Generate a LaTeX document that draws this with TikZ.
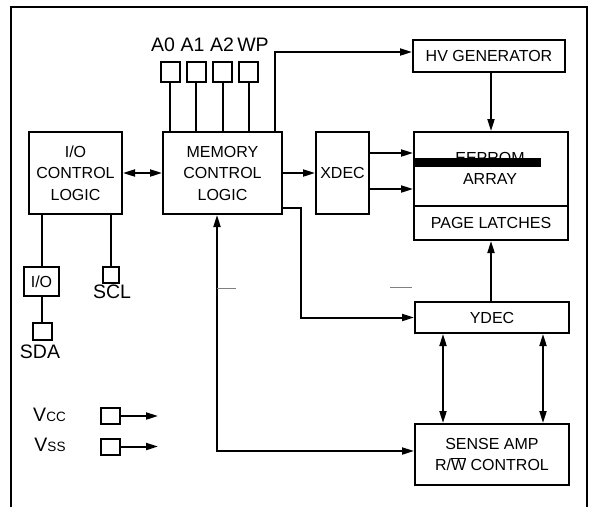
\documentclass[tikz,border=0pt]{standalone}
\usepackage{fontspec}
\setmainfont{Liberation Sans}
\usetikzlibrary{arrows.meta}
\begin{document}
\begin{tikzpicture}[x=1pt,y=-1pt,
  line width=2pt,
  box/.style={draw,line width=2pt,inner sep=0pt,align=center,font=\fontsize{16}{21.5}\selectfont},
  txt/.style={inner sep=0pt,align=center,font=\fontsize{16}{21.5}\selectfont},
  pinbox/.style={draw,line width=2pt,inner sep=0pt},
  lbl/.style={inner sep=0pt,font=\fontsize{19.5}{21}\selectfont},
  arr/.style={-{Triangle[length=12pt,width=7pt]}},
  darr/.style={{Triangle[length=12pt,width=7pt]}-{Triangle[length=12pt,width=7pt]}},
  graymark/.style={draw=gray,line width=1pt}
]
\useasboundingbox (0,0) rectangle (589,507);
% outer frame
\draw (11,507) -- (11,7) -- (587,7) -- (587,507);

% main blocks
\node[box,minimum width=93pt,minimum height=82pt] (ioc) at (75.5,173) {I/O\\CONTROL\\LOGIC};
\node[box,minimum width=119pt,minimum height=82pt] (mem) at (222.5,173) {MEMORY\\CONTROL\\LOGIC};
\node[box,minimum width=53pt,minimum height=82pt] (xdec) at (342.5,173) {XDEC};
\node[box,minimum width=152pt,minimum height=32pt] (hv) at (489,56) {HV GENERATOR};
\node[box,minimum width=154pt,minimum height=74pt] (arr) at (491,169) {};
\node[box,minimum width=154pt,minimum height=34pt] (pl) at (491,223) {PAGE LATCHES};
\node[box,minimum width=154pt,minimum height=31pt] (ydec) at (492,317.5) {YDEC};
\node[box,minimum width=154pt,minimum height=61pt] (sa) at (492,454.5) {SENSE AMP\\R/$\overline{\hbox{W}}$ CONTROL};
\node[box,minimum width=35pt,minimum height=29pt] (iob) at (41.5,281.5) {I/O};

% EEPROM array text (partly covered)
\node[txt] (eep) at (490,157.5) {EEPROM};
\fill (413,158) rectangle (541,167);
\node[txt] (ary) at (490,179) {ARRAY};

% pins
\node[pinbox,minimum width=19pt,minimum height=20pt] (a0) at (170,72) {};
\node[pinbox,minimum width=19pt,minimum height=20pt] (a1) at (196,72) {};
\node[pinbox,minimum width=19pt,minimum height=20pt] (a2) at (222.5,72) {};
\node[pinbox,minimum width=19pt,minimum height=20pt] (wp) at (248.5,72) {};
\node[lbl] (la0) at (163,45) {A0};
\node[lbl] (la1) at (192.5,45) {A1};
\node[lbl] (la2) at (222,45) {A2};
\node[lbl] (lwp) at (253,45) {WP};

\node[pinbox,minimum width=16pt,minimum height=16pt] (scl) at (111,275) {};
\node[lbl] (lscl) at (112,292) {SCL};
\node[pinbox,minimum width=19pt,minimum height=17pt] (sda) at (42.5,331.5) {};
\node[lbl] (lsda) at (40,351.5) {SDA};

\node[pinbox,minimum width=19pt,minimum height=16pt] (vcc) at (110.5,416) {};
\node[pinbox,minimum width=19pt,minimum height=16pt] (vss) at (110.5,446.5) {};
\node[lbl] (lvcc) at (49.5,415) {V{\fontsize{13.5}{14}\selectfont CC}};
\node[lbl] (lvss) at (50,445) {V{\fontsize{13.5}{14}\selectfont SS}};

% pin connections
\draw (a0.south) -- (a0.south |- mem.north);
\draw (a1.south) -- (a1.south |- mem.north);
\draw (a2.south) -- (a2.south |- mem.north);
\draw (wp.south) -- (wp.south |- mem.north);
\draw (ioc.south -| iob.north) -- (iob.north);
\draw (iob.south) -- (iob.south |- sda.north);
\draw (scl.north |- ioc.south) -- (scl.north);
\draw[arr] (vcc.east) -- ++(37,0);
\draw[arr] (vss.east) -- ++(37,0);

% connectors
\draw[darr] (ioc.east) -- (mem.west);
\draw[arr] ([xshift=-8pt]mem.north east) |- ([yshift=4pt]hv.west);
\draw[arr] (hv.south -| arr.north) -- (arr.north);
\draw[arr] (mem.east) -- (xdec.west);
\draw[arr] ([yshift=20pt]xdec.east) -- ([yshift=20pt]xdec.east -| arr.west);
\draw[arr] ([yshift=-16pt]xdec.east) -- ([yshift=-16pt]xdec.east -| arr.west);
\draw[arr] ([yshift=-35pt]mem.east) -- ++(18,0) |- (ydec.west);
\draw[arr] (ydec.north -| pl.south) -- (pl.south);
\draw[darr] ([xshift=-49pt]ydec.south) -- ([xshift=-49pt]ydec.south |- sa.north);
\draw[darr] ([xshift=51pt]ydec.south) -- ([xshift=51pt]ydec.south |- sa.north);
\draw[darr] ([xshift=-5.5pt]mem.south) |- ([yshift=3.5pt]sa.west);

% small gray marks
\draw[graymark] (217,288) -- (236,288);
\draw[graymark] (390,287) -- (412,287);
\end{tikzpicture}
\end{document}
